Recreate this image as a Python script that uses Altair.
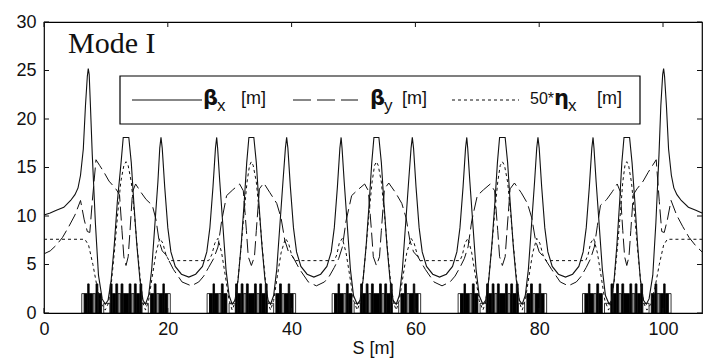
import altair as alt
import pandas as pd

# ---------------- data ----------------
bx_s = [0.0, 1.0, 2.0, 3.2, 4.3, 5.0, 5.5, 5.9, 6.35, 6.7, 7.0, 7.15, 7.3, 7.5, 7.8, 8.3, 8.8, 9.4,
        9.9, 10.35, 10.85, 11.35, 11.85, 12.45, 12.8, 13.7, 14.1, 14.5, 15.0, 15.5, 16.0, 16.4, 16.9, 17.4,
        17.9, 18.4, 18.7, 18.9, 19.1, 19.5, 20.0, 20.5, 21.2, 22.2, 23.4,
        24.5, 25.6, 26.3, 26.8, 27.3, 27.7, 27.9, 28.05, 28.4, 28.9, 29.4, 29.9, 30.4, 30.85, 31.35, 31.85,
        32.35, 32.75, 33.1, 33.9, 34.3, 34.7, 35.2, 35.7, 36.2, 36.6, 37.1, 37.6, 38.1, 38.6, 39.0, 39.2,
        39.4, 39.8, 40.3, 40.8, 41.5, 42.5, 43.6,
        44.7, 45.7, 46.4, 46.9, 47.4, 47.8, 48.0, 48.15, 48.5, 49.0, 49.5, 50.0, 50.6, 51.05, 51.55, 52.05,
        52.55, 52.95, 53.3, 54.1, 54.5, 54.9, 55.4, 55.9, 56.4, 56.9, 57.4, 57.9, 58.4, 58.9, 59.3, 59.5,
        59.7, 60.1, 60.6, 61.1, 61.8, 62.8, 63.9,
        65.0, 66.0, 66.7, 67.2, 67.7, 68.1, 68.3, 68.45, 68.8, 69.3, 69.8, 70.3, 70.9, 71.35, 71.85, 72.35,
        72.85, 73.25, 73.6, 74.5, 74.9, 75.3, 75.8, 76.3, 76.8, 77.25, 77.75, 78.25, 78.75, 79.25, 79.6, 79.8,
        80.0, 80.4, 80.9, 81.4, 82.1, 83.1, 84.25,
        85.4, 86.4, 87.1, 87.6, 88.1, 88.5, 88.7, 88.85, 89.2, 89.7, 90.2, 90.7, 91.3, 91.7, 92.1, 92.55,
        93.0, 93.35, 93.7, 94.6, 95.0, 95.45, 95.9, 96.35, 96.85, 97.3, 97.75, 98.35, 98.85, 99.35, 99.65,
        99.95, 100.1, 100.25, 100.55, 100.9, 101.35, 101.75, 102.25, 102.95, 104.1, 105.3, 106.3]
bx_v = [10.1, 10.3, 10.6, 10.9, 11.6, 12.2, 12.9, 14.2, 16.9, 21.4, 24.4, 25.2, 24.6, 21.4, 16.3, 9.3, 3.9, 1.45,
        0.9, 1.3, 3.4, 7.0, 11.5, 15.5, 18.1, 18.1, 15.5, 11.5, 7.0, 3.4, 1.3, 0.9, 1.8, 4.5,
        9.0, 13.5, 17.0, 18.1, 17.0, 13.0, 8.8, 6.3, 4.8, 4.0, 3.7,
        4.0, 4.8, 6.3, 8.8, 13.0, 17.0, 18.1, 17.0, 13.5, 9.0, 4.5, 1.8, 0.9, 1.3, 3.4, 7.0,
        11.5, 15.5, 18.1, 18.1, 15.5, 11.5, 7.0, 3.4, 1.3, 0.9, 1.8, 4.5, 9.0, 13.5, 17.0, 18.1,
        17.0, 13.0, 8.8, 6.3, 4.8, 4.0, 3.7,
        4.0, 4.8, 6.3, 8.8, 13.0, 17.0, 18.1, 17.0, 13.5, 9.0, 4.5, 1.8, 0.9, 1.3, 3.4, 7.0,
        11.5, 15.5, 18.1, 18.1, 15.5, 11.5, 7.0, 3.4, 1.3, 0.9, 1.8, 4.5, 9.0, 13.5, 17.0, 18.1,
        17.0, 13.0, 8.8, 6.3, 4.8, 4.0, 3.7,
        4.0, 4.8, 6.3, 8.8, 13.0, 17.0, 18.1, 17.0, 13.5, 9.0, 4.5, 1.8, 0.9, 1.3, 3.4, 7.0,
        11.5, 15.5, 18.1, 18.1, 15.5, 11.5, 7.0, 3.4, 1.3, 0.9, 1.8, 4.5, 9.0, 13.5, 17.0, 18.1,
        17.0, 13.0, 8.8, 6.3, 4.8, 4.0, 3.7,
        4.0, 4.8, 6.3, 8.8, 13.0, 17.0, 18.1, 17.0, 13.5, 9.0, 4.5, 1.8, 0.9, 1.3, 3.4, 7.0,
        11.5, 15.5, 18.1, 18.1, 15.5, 11.5, 7.0, 3.4, 1.3, 0.9, 1.45, 3.9, 9.3, 16.3, 21.4,
        24.6, 25.2, 24.4, 21.4, 16.9, 14.2, 12.9, 12.2, 11.6, 10.9, 10.6, 10.3]

by_s = [0.0, 1.0, 2.0, 3.0, 4.0, 5.0, 5.9, 6.5, 7.0, 7.4, 7.8, 8.4, 9.0, 9.7, 10.5, 11.6, 12.2, 12.6, 12.9,
        13.25, 13.6, 13.9, 14.3, 14.8, 15.6, 16.5, 17.5, 18.1, 18.6, 19.1, 19.7, 20.9, 22.3, 23.8, 25.0,
        25.8, 26.6, 27.4, 28.1, 28.7, 29.5, 30.5, 31.6, 32.2, 32.7, 33.0, 33.5, 34.0, 34.3, 34.8, 35.5,
        36.5, 37.6, 38.3, 38.9, 39.5, 40.2, 41.3, 42.7, 44.0, 45.3, 46.1, 46.9, 47.6, 48.2, 48.8, 49.7,
        50.7, 51.8, 52.4, 52.9, 53.2, 53.7, 54.2, 54.5, 55.0, 55.7, 56.8, 57.8, 58.5, 59.1, 59.7, 60.4,
        61.6, 63.0, 64.3, 65.6, 66.4, 67.2, 67.9, 68.5, 69.1, 70.0, 71.0, 72.1, 72.8, 73.3, 73.6, 74.05,
        74.5, 74.8, 75.3, 76.0, 77.1, 78.1, 78.8, 79.4, 80.0, 80.7, 82.0, 83.4, 84.7, 86.0, 86.8, 87.6,
        88.3, 88.9, 89.4, 89.9, 90.9, 91.8, 92.6, 93.1, 93.5, 93.8, 94.15, 94.5, 94.8, 95.2, 95.8, 96.8,
        97.6, 98.3, 98.9, 99.4, 99.8, 100.2, 100.7, 101.3, 102.2, 103.2, 104.2, 105.2, 106.3]
by_v = [6.1, 6.4, 7.0, 7.8, 8.9, 10.1, 11.6, 9.6, 8.4, 8.3, 11.5, 15.8, 15.2, 14.5, 13.6, 12.8, 12.2, 8.5, 5.8,
        4.9, 5.8, 8.5, 12.5, 13.3, 12.5, 11.7, 11.1, 9.6, 7.4, 6.4, 6.0, 4.5, 3.2, 2.8, 3.2,
        3.8, 4.7, 5.6, 6.8, 9.5, 12.1, 12.7, 13.3, 12.6, 8.5, 5.8, 4.9, 5.8, 8.5, 12.8, 13.4,
        12.4, 11.3, 9.8, 7.5, 6.3, 5.8, 4.5, 3.2, 2.8, 3.2, 3.8, 4.7, 5.6, 6.8, 9.5, 12.1,
        12.7, 13.3, 12.6, 8.5, 5.8, 4.9, 5.8, 8.5, 12.8, 13.4, 12.4, 11.3, 9.8, 7.5, 6.3, 5.8,
        4.5, 3.2, 2.8, 3.2, 3.8, 4.7, 5.6, 6.8, 9.5, 12.1, 12.7, 13.3, 12.6, 8.5, 5.8, 4.9,
        5.8, 8.5, 12.8, 13.4, 12.4, 11.3, 9.8, 7.5, 6.3, 5.8, 4.5, 3.2, 2.8, 3.2, 3.8, 4.7,
        5.6, 6.8, 9.0, 11.1, 11.7, 12.5, 13.3, 12.5, 8.5, 5.8, 4.9, 5.8, 8.5, 12.2, 12.8, 13.6,
        14.5, 15.2, 15.8, 11.5, 8.4, 8.3, 9.6, 11.6, 10.1, 8.9, 7.8, 7.0, 6.3]

eta_s = [0.0, 6.6, 7.2, 7.9, 8.6, 9.3, 9.9, 10.4, 10.9, 11.4, 11.9, 12.4, 12.9, 13.25, 13.6, 14.1, 14.6,
         15.1, 15.6, 16.0, 16.4, 16.9, 17.5, 18.1, 18.7, 19.2, 19.7, 20.2,
         26.6, 27.1, 27.6, 28.1, 28.7, 29.3, 29.9, 30.4, 30.8, 31.3, 31.8, 32.3, 32.8, 33.2, 33.5, 33.8,
         34.3, 34.8, 35.3, 35.8, 36.2, 36.6, 37.1, 37.7, 38.3, 39.0, 39.5, 40.0, 40.5,
         46.9, 47.3, 47.7, 48.2, 48.8, 49.4, 50.0, 50.6, 51.0, 51.5, 52.0, 52.5, 53.0, 53.4, 53.7, 54.0,
         54.5, 55.0, 55.5, 56.0, 56.5, 56.9, 57.4, 58.0, 58.6, 59.3, 59.8, 60.3, 60.8,
         67.2, 67.6, 68.0, 68.5, 69.1, 69.7, 70.3, 70.9, 71.3, 71.8, 72.3, 72.8, 73.3, 73.7, 74.05, 74.4,
         74.9, 75.4, 75.9, 76.4, 76.85, 77.25, 77.75, 78.35, 78.95, 79.6, 80.1, 80.6, 81.1,
         87.5, 87.9, 88.3, 88.8, 89.4, 90.0, 90.6, 91.2, 91.6, 92.1, 92.6, 93.1, 93.5, 93.85, 94.15, 94.45,
         94.9, 95.4, 95.9, 96.4, 96.9, 97.4, 98.0, 98.7, 99.4, 100.1, 100.7, 106.3]
eta_v = [7.6, 7.6, 7.0, 5.0, 2.6, 0.9, 0.3, 1.0, 3.2, 6.5, 10.2, 13.5, 15.2, 15.6, 15.2, 13.5, 10.2,
         6.5, 3.2, 1.0, 0.3, 1.3, 3.8, 6.2, 7.7, 7.2, 6.0, 5.4,
         5.4, 6.0, 7.2, 7.7, 6.2, 3.8, 1.3, 0.3, 1.0, 3.2, 6.5, 10.2, 13.5, 15.2, 15.6, 15.2,
         13.5, 10.2, 6.5, 3.2, 1.0, 0.3, 1.3, 3.8, 6.2, 7.7, 7.2, 6.0, 5.4,
         5.4, 6.0, 7.2, 7.7, 6.2, 3.8, 1.3, 0.3, 1.0, 3.2, 6.5, 10.2, 13.5, 15.2, 15.6, 15.2,
         13.5, 10.2, 6.5, 3.2, 1.0, 0.3, 1.3, 3.8, 6.2, 7.7, 7.2, 6.0, 5.4,
         5.4, 6.0, 7.2, 7.7, 6.2, 3.8, 1.3, 0.3, 1.0, 3.2, 6.5, 10.2, 13.5, 15.2, 15.6, 15.2,
         13.5, 10.2, 6.5, 3.2, 1.0, 0.3, 1.3, 3.8, 6.2, 7.7, 7.2, 6.0, 5.4,
         5.4, 6.0, 7.2, 7.7, 6.2, 3.8, 1.3, 0.3, 1.0, 3.2, 6.5, 10.2, 13.5, 15.2, 15.6, 15.2,
         13.5, 10.2, 6.5, 3.2, 1.0, 0.3, 0.9, 2.6, 5.0, 7.0, 7.6, 7.6]

# magnet lattice: group centres and one cell's element layout (offset start, offset end, height, kind)
group_centres = [13.25, 33.5, 53.7, 74.05, 94.15]
cell_start = [-7.15, -6.75, -6.2, -5.95, -5.35, -4.85, -4.5, -3.6, -2.55, -2.2, -1.65, -1.3, -0.8, -0.45,
              0.5, 0.85, 1.35, 1.7, 2.25, 2.6, 3.95, 4.55, 4.9, 5.4, 5.95, 6.25, 6.75]
cell_end = [-6.75, -6.25, -5.95, -5.4, -4.9, -4.55, -3.95, -2.6, -2.25, -1.7, -1.35, -0.85, -0.5, 0.45,
            0.8, 1.3, 1.65, 2.2, 2.55, 3.6, 4.5, 4.85, 5.35, 5.95, 6.2, 6.75, 7.15]
cell_height = [2, 2, 3, 2, 2, 3, 2, 1, 3, 2, 3, 2, 3, 2,
               3, 2, 3, 2, 3, 1, 2, 3, 2, 2, 3, 2, 2]
cell_kind = ["w", "k", "k", "k", "g", "k", "k", "w", "k", "k", "k", "g", "k", "k",
             "k", "g", "k", "k", "k", "w", "k", "k", "g", "k", "k", "k", "w"]

x_ticks = [0, 20, 40, 60, 80, 100]
y_ticks = [0, 5, 10, 15, 20, 25, 30]
S_MAX = 106.3

# ---------------- tables ----------------
df_bx = pd.DataFrame({"S": bx_s, "v": bx_v})
df_by = pd.DataFrame({"S": by_s, "v": by_v})
df_eta = pd.DataFrame({"S": eta_s, "v": eta_v})
mag_rows = []
for c in group_centres:
    for a, b, h, k in zip(cell_start, cell_end, cell_height, cell_kind):
        mag_rows.append({"S": c + a, "s1": c + b, "v": h, "kind": k})
df_mag = pd.DataFrame(mag_rows)
df_xt = pd.DataFrame({"S": x_ticks})
df_yt = pd.DataFrame({"v": y_ticks})
one = pd.DataFrame({"d": [0]})

W, H = 658, 291
xs = alt.Scale(domain=[0, S_MAX], nice=False, zero=False)
ys = alt.Scale(domain=[0, 30], nice=False)
FONT = "Liberation Sans"
INK = "#111111"

x_axis = alt.Axis(values=x_ticks, ticks=False, domain=False, grid=False, labelFont=FONT,
                  labelFontSize=18, labelColor=INK, labelPadding=7, title="S [m]",
                  titleFont=FONT, titleFontSize=18, titleFontWeight="normal", titleColor=INK,
                  titlePadding=1, labelFlush=False)
y_axis = alt.Axis(values=y_ticks, ticks=False, domain=False, grid=False, labelFont=FONT,
                  labelFontSize=18, labelColor=INK, labelPadding=8, title=None)
X = alt.X("S:Q", scale=xs, axis=x_axis)
Y = alt.Y("v:Q", scale=ys, axis=y_axis)

mag = alt.Chart(df_mag).mark_rect(stroke="#000", strokeWidth=0.8).encode(
    x=X, x2="s1:Q", y=Y, y2=alt.datum(0),
    fill=alt.Fill("kind:N", scale=alt.Scale(domain=["k", "g", "w"], range=["#000000", "#8a8a8a", "#ffffff"]),
                  legend=None))

line_bx = alt.Chart(df_bx).mark_line(color=INK, strokeWidth=1.1).encode(x=X, y=Y, order="S:Q")
line_by = alt.Chart(df_by).mark_line(color=INK, strokeWidth=1.0, strokeDash=[14, 5]).encode(
    x=X, y=Y, order="S:Q")
line_eta = alt.Chart(df_eta).mark_line(color=INK, strokeWidth=1.0, strokeDash=[3, 3]).encode(
    x=X, y=Y, order="S:Q")

# inward ticks on all four sides
tick_b = alt.Chart(df_xt).mark_rule(color=INK, strokeWidth=1).encode(
    x=X, y=alt.value(H), y2=alt.value(H - 5))
tick_t = alt.Chart(df_xt).mark_rule(color=INK, strokeWidth=1).encode(
    x=X, y=alt.value(0), y2=alt.value(5))
tick_l = alt.Chart(df_yt).mark_rule(color=INK, strokeWidth=1).encode(
    y=Y, x=alt.value(0), x2=alt.value(5))
tick_r = alt.Chart(df_yt).mark_rule(color=INK, strokeWidth=1).encode(
    y=Y, x=alt.value(W), x2=alt.value(W - 5))

# legend box
leg_box = alt.Chart(one).mark_rect(fill="white", stroke="#000", strokeWidth=1.2).encode(
    x=alt.value(76), x2=alt.value(596), y=alt.value(54), y2=alt.value(102))
leg_l1 = alt.Chart(one).mark_rule(color=INK, strokeWidth=1.1).encode(
    x=alt.value(88), x2=alt.value(158), y=alt.value(78))
leg_l2 = alt.Chart(one).mark_rule(color=INK, strokeWidth=1.0, strokeDash=[18, 6]).encode(
    x=alt.value(249), x2=alt.value(314), y=alt.value(78))
leg_l3 = alt.Chart(one).mark_rule(color=INK, strokeWidth=1.0, strokeDash=[3, 3]).encode(
    x=alt.value(408), x2=alt.value(475), y=alt.value(78))


def txt(s, x, y, size=17, weight="normal", font=FONT):
    return alt.Chart(one).mark_text(text=s, align="left", baseline="alphabetic", font=font,
                                    fontSize=size, fontWeight=weight, color=INK).encode(
        x=alt.value(x), y=alt.value(y))


legend_texts = [
    txt("β", 159, 83, 21, "bold", "DejaVu Sans"), txt("x", 173, 89, 17),
    txt("[m]", 197, 82, 18),
    txt("β", 326, 83, 21, "bold", "DejaVu Sans"), txt("y", 340, 89, 17),
    txt("[m]", 358, 82, 18),
    txt("50*", 486, 82, 16), txt("η", 510, 83, 21, "bold", "DejaVu Sans"), txt("x", 524, 89, 17),
    txt("[m]", 553, 82, 18),
]
mode = txt("Mode I", 24, 31, 30, "normal", "Liberation Serif")

chart = alt.layer(mag, line_eta, line_by, line_bx, tick_b, tick_t, tick_l, tick_r,
                  leg_box, leg_l1, leg_l2, leg_l3, *legend_texts, mode).properties(
    width=W, height=H,
    autosize=alt.AutoSizeParams(type="none"),
    padding={"left": 44, "top": 22, "right": 1, "bottom": 46},
    background="white",
).configure_view(stroke="#000", strokeWidth=1.2)

chart.save("out.html", embed_options={"renderer": "svg", "actions": False})
